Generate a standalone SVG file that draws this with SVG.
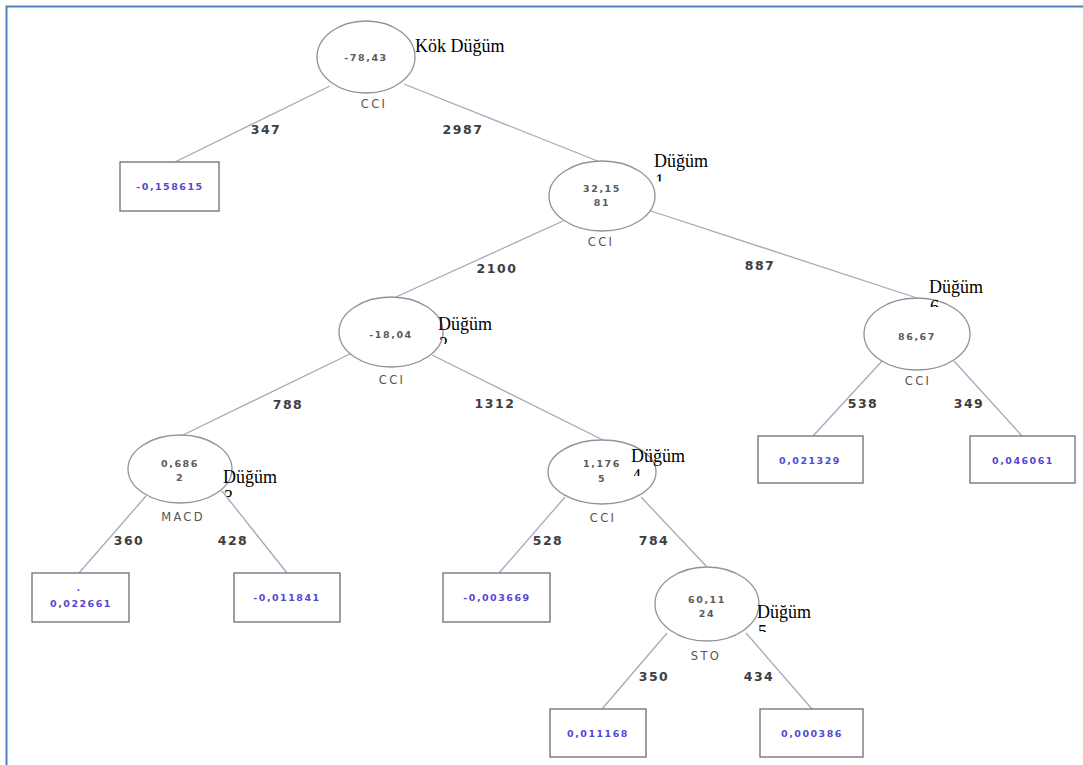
<svg xmlns="http://www.w3.org/2000/svg" width="1083" height="765" viewBox="0 0 1083 765">
<style>
.frame{stroke:#4f81bd;stroke-width:2;fill:none}
.edge{stroke:#a3aabb;stroke-width:1.3;fill:none}
.ell{fill:#fff;stroke:#8e939c;stroke-width:1.3}
.box{fill:#fff;stroke:#6b6e75;stroke-width:1.3}
.val{font-family:"DejaVu Sans",sans-serif;font-size:9.5px;fill:#5a5a5a;text-anchor:middle;letter-spacing:1.6px;font-weight:bold}
.var{font-family:"DejaVu Sans",sans-serif;font-size:11.5px;fill:#555;text-anchor:middle;letter-spacing:2.3px}
.elab{font-family:"DejaVu Sans",sans-serif;font-size:12.5px;fill:#3e3e3e;text-anchor:middle;letter-spacing:1.5px;font-weight:600}
.leaf{font-family:"DejaVu Sans",sans-serif;font-size:9.5px;fill:#5448d0;text-anchor:middle;letter-spacing:1.5px;font-weight:bold}
.tag{font-family:"Liberation Serif","Times New Roman",serif;font-size:18px;fill:#000}
</style>
<defs>
<clipPath id="c1" clipPathUnits="userSpaceOnUse"><rect x="640" y="170" width="40" height="11.5"/></clipPath>
<clipPath id="c2" clipPathUnits="userSpaceOnUse"><rect x="430" y="333" width="40" height="11"/></clipPath>
<clipPath id="c6" clipPathUnits="userSpaceOnUse"><rect x="920" y="296" width="40" height="11"/></clipPath>
<clipPath id="c3" clipPathUnits="userSpaceOnUse"><rect x="215" y="486" width="40" height="11"/></clipPath>
<clipPath id="c4" clipPathUnits="userSpaceOnUse"><rect x="620" y="465" width="40" height="11"/></clipPath>
<clipPath id="c5" clipPathUnits="userSpaceOnUse"><rect x="750" y="621" width="40" height="11"/></clipPath>
</defs>
<rect width="1083" height="765" fill="#fff"/>
<path class="frame" d="M6.5,765 V6.5 H1083"/>
<g id="connectors">
<line class="edge" x1="330" y1="86" x2="175" y2="162"/>
<line class="edge" x1="404" y1="84" x2="600" y2="162"/>
<line class="edge" x1="563" y1="221" x2="396" y2="297"/>
<line class="edge" x1="648" y1="210" x2="917" y2="298"/>
<line class="edge" x1="352" y1="353" x2="183" y2="435"/>
<line class="edge" x1="432" y1="355" x2="603" y2="440"/>
<line class="edge" x1="882" y1="361" x2="813" y2="436"/>
<line class="edge" x1="954" y1="361" x2="1022" y2="436"/>
<line class="edge" x1="146" y1="496" x2="79" y2="573"/>
<line class="edge" x1="222" y1="491" x2="287" y2="573"/>
<line class="edge" x1="565" y1="497" x2="499" y2="573"/>
<line class="edge" x1="641" y1="497" x2="707" y2="567"/>
<line class="edge" x1="667" y1="633" x2="602" y2="709"/>
<line class="edge" x1="746" y1="633" x2="812" y2="709"/>
<text class="elab" x="266" y="134">347</text>
<text class="elab" x="463" y="134">2987</text>
<text class="elab" x="497" y="273">2100</text>
<text class="elab" x="760" y="270">887</text>
<text class="elab" x="288" y="409">788</text>
<text class="elab" x="495" y="408">1312</text>
<text class="elab" x="863" y="408">538</text>
<text class="elab" x="969" y="408">349</text>
<text class="elab" x="129" y="545">360</text>
<text class="elab" x="233" y="545">428</text>
<text class="elab" x="548" y="545">528</text>
<text class="elab" x="654" y="545">784</text>
<text class="elab" x="654" y="681">350</text>
<text class="elab" x="759" y="681">434</text>
</g>
<g id="root">
<ellipse class="ell" cx="366" cy="57" rx="49" ry="36"/>
<text class="val" x="366" y="61">-78,43</text>
<text class="var" x="374" y="108">CCI</text>
<text class="tag" x="415" y="52">Kök Düğüm</text>
</g>
<g id="node1">
<ellipse class="ell" cx="602" cy="196" rx="53" ry="35"/>
<text class="val" x="602" y="192">32,15</text>
<text class="val" x="602" y="206">81</text>
<text class="var" x="601" y="246">CCI</text>
<text class="tag" x="654" y="167">Düğüm</text>
<text class="tag" x="655" y="187" clip-path="url(#c1)">1</text>
</g>
<g id="node2">
<ellipse class="ell" cx="391" cy="332" rx="52" ry="35"/>
<text class="val" x="391" y="338">-18,04</text>
<text class="var" x="392" y="384">CCI</text>
<text class="tag" x="438" y="330">Düğüm</text>
<text class="tag" x="439" y="350" clip-path="url(#c2)">2</text>
</g>
<g id="node6">
<ellipse class="ell" cx="917" cy="334" rx="53" ry="36"/>
<text class="val" x="917" y="340">86,67</text>
<text class="var" x="918" y="385">CCI</text>
<text class="tag" x="929" y="293">Düğüm</text>
<text class="tag" x="930" y="313" clip-path="url(#c6)">6</text>
</g>
<g id="node3">
<ellipse class="ell" cx="180" cy="469" rx="52" ry="34"/>
<text class="val" x="180" y="467">0,686</text>
<text class="val" x="180" y="481">2</text>
<text class="var" x="183" y="521">MACD</text>
<text class="tag" x="223" y="483">Düğüm</text>
<text class="tag" x="224" y="503" clip-path="url(#c3)">3</text>
</g>
<g id="node4">
<ellipse class="ell" cx="602" cy="472" rx="54" ry="32"/>
<text class="val" x="602" y="467">1,176</text>
<text class="val" x="602" y="482">5</text>
<text class="var" x="603" y="522">CCI</text>
<text class="tag" x="631" y="462">Düğüm</text>
<text class="tag" x="632" y="482" clip-path="url(#c4)">4</text>
</g>
<g id="node5">
<ellipse class="ell" cx="707" cy="604" rx="52" ry="37"/>
<text class="val" x="707" y="603">60,11</text>
<text class="val" x="707" y="617">24</text>
<text class="var" x="706" y="660">STO</text>
<text class="tag" x="757" y="618">Düğüm</text>
<text class="tag" x="758" y="638" clip-path="url(#c5)">5</text>
</g>
<g id="leaf0">
<rect class="box" x="120" y="162" width="99" height="49"/>
<text class="leaf" x="170" y="190">-0,158615</text>
</g>
<g id="leaf6a">
<rect class="box" x="758" y="436" width="105" height="47"/>
<text class="leaf" x="810" y="464">0,021329</text>
</g>
<g id="leaf6b">
<rect class="box" x="970" y="436" width="105" height="47"/>
<text class="leaf" x="1023" y="464">0,046061</text>
</g>
<g id="leaf3a">
<rect class="box" x="32" y="573" width="97" height="49"/>
<text class="leaf" x="79" y="591">.</text>
<text class="leaf" x="81" y="607">0,022661</text>
</g>
<g id="leaf3b">
<rect class="box" x="234" y="573" width="106" height="49"/>
<text class="leaf" x="287" y="601">-0,011841</text>
</g>
<g id="leaf4">
<rect class="box" x="443" y="573" width="107" height="49"/>
<text class="leaf" x="497" y="601">-0,003669</text>
</g>
<g id="leaf5a">
<rect class="box" x="550" y="709" width="96" height="48"/>
<text class="leaf" x="598" y="737">0,011168</text>
</g>
<g id="leaf5b">
<rect class="box" x="760" y="709" width="103" height="48"/>
<text class="leaf" x="812" y="737">0,000386</text>
</g>
</svg>
